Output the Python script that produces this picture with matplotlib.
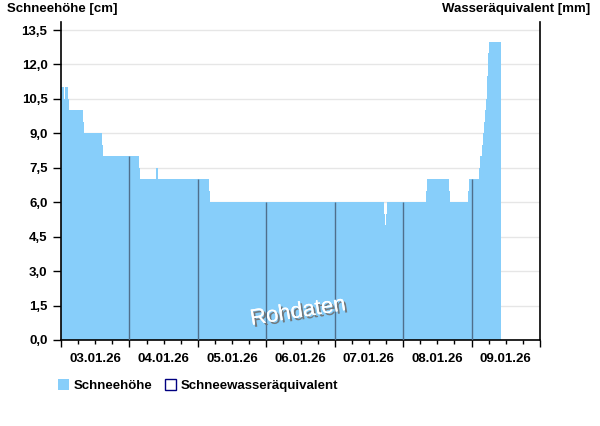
import matplotlib
matplotlib.use("Agg")
import matplotlib.pyplot as plt
import matplotlib.patheffects as pe
from matplotlib.patches import Patch
from matplotlib.ticker import FixedLocator, NullFormatter, FixedFormatter
import numpy as np

plt.rcParams["font.family"] = ["Liberation Sans", "DejaVu Sans"]

# snow depth as a step series: start hour (since 03.01.26 00:00) and value in cm
step_start_h = [0, 1.05, 1.4, 2.45, 2.8, 7.7, 8.06, 14.4, 14.7, 27.2, 27.7,
                33.2, 33.55, 33.8, 34.0, 51.9, 52.2, 113.3, 113.75, 114.1,
                114.45, 127.9, 128.2, 135.95, 136.3, 142.6, 143.0, 146.5,
                146.8, 147.5, 147.9, 148.2, 148.6, 148.9, 149.3, 149.6, 150.0]
step_value = [11, 10.5, 11, 10.5, 10, 9.5, 9, 8.5, 8, 7.5, 7,
              7.5, 8, 7.5, 7, 6.5, 6, 5.5, 5.0, 5.5,
              6, 6.5, 7, 6.5, 6, 6.5, 7, 7.5,
              8, 8.5, 9, 9.5, 10, 10.5, 11.5, 12.5, 13]
data_end_h = 154.2

day_labels = ["03.01.26", "04.01.26", "05.01.26", "06.01.26",
              "07.01.26", "08.01.26", "09.01.26"]
y_ticks = [0.0, 1.5, 3.0, 4.5, 6.0, 7.5, 9.0, 10.5, 12.0, 13.5]

BLUE = "#87cefa"
FS = 9.5

fig = plt.figure(figsize=(6.0, 4.26), dpi=100)
ax = fig.add_axes([61 / 600, 86 / 426, 479 / 600, 318 / 426])

starts = np.array(step_start_h)
ends = np.append(starts[1:], data_end_h)
ax.bar(starts, step_value, width=ends - starts, align="edge",
       color=BLUE, linewidth=0, zorder=2)

# dark lines at midnight inside the bars
n_days = len(day_labels)
for d in range(1, n_days):
    h = d * 24
    idx = np.searchsorted(starts, h, side="right") - 1
    if h < data_end_h:
        ax.vlines(h, 0, step_value[idx], color="#4f6f8c", lw=1.0, zorder=3)

ax.set_xlim(0, n_days * 24)
ax.set_ylim(0, 13.85)

ax.set_yticks(y_ticks)
ax.set_yticklabels([f"{v:.1f}".replace(".", ",") for v in y_ticks],
                   fontsize=FS, fontweight="bold")
ax.yaxis.grid(True, color="#e6e6e6", lw=1.0, zorder=0)
ax.set_axisbelow(True)

ax.xaxis.set_major_locator(FixedLocator([d * 24 for d in range(n_days + 1)]))
ax.xaxis.set_major_formatter(NullFormatter())
minor = [d * 24 + k for d in range(n_days) for k in (6, 12, 18)]
ax.xaxis.set_minor_locator(FixedLocator(minor))
ax.xaxis.set_minor_formatter(FixedFormatter(
    [day_labels[i // 3] if i % 3 == 1 else "" for i in range(len(minor))]))
for lab in ax.xaxis.get_minorticklabels():
    lab.set_fontweight("bold")

ax.tick_params(axis="y", length=5.8, width=1.0, pad=4, colors="black")
ax.tick_params(axis="x", which="major", length=5.2, width=1.0)
ax.tick_params(axis="x", which="minor", length=3, width=1.0,
               labelsize=FS, pad=6.5)

ax.spines["top"].set_visible(False)
for s in ("left", "right", "bottom"):
    ax.spines[s].set_linewidth(1.2)

ax.text(0.495, 0.088, "Rohdaten", transform=ax.transAxes, rotation=9,
        ha="center", va="center", fontsize=16, color="white", zorder=5,
        path_effects=[pe.withSimplePatchShadow(offset=(1.6, -1.6),
                                               shadow_rgbFace="#707070",
                                               alpha=0.9),
                      pe.Normal()])

fig.text(7 / 600, 1 - 9 / 426, "Schneehöhe [cm]", ha="left", va="center",
         fontsize=FS, fontweight="bold")
fig.text(590 / 600, 1 - 9 / 426, "Wasseräquivalent [mm]", ha="right",
         va="center", fontsize=FS, fontweight="bold")

handles = [Patch(facecolor=BLUE, edgecolor="none", label="Schneehöhe"),
           Patch(facecolor="white", edgecolor="#000080", lw=1.0,
                 label="Schneewasseräquivalent")]
fig.legend(handles=handles, loc="center left", ncol=2, frameon=False,
           bbox_to_anchor=(58 / 600, 1 - 385.5 / 426),
           prop={"size": FS, "weight": "bold"},
           handlelength=0.85, handleheight=0.85, handletextpad=0.3,
           columnspacing=1.0, borderpad=0, borderaxespad=0)

fig.savefig("out.png", dpi=100)
